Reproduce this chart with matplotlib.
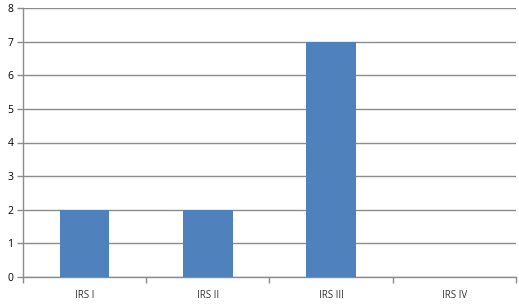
import numpy as np
import matplotlib
matplotlib.use('Agg')
import matplotlib.pyplot as plt

categories = ['IRS I', 'IRS II', 'IRS III', 'IRS IV']
values = [2, 2, 7, 0]

plt.rcParams['font.family'] = ['Open Sans', 'DejaVu Sans']

fig = plt.figure(figsize=(5.19, 3.04), dpi=100)
ax = fig.add_axes([0.0443, 0.0888, 0.9499, 0.8849])

x = np.arange(len(categories))
ax.bar(x, values, width=0.4, color='#4F81BD', zorder=3)

ax.set_xlim(-0.5, len(categories) - 0.5)
ax.set_ylim(0, 8)
ax.set_yticks(range(0, 9))
ax.yaxis.grid(True, color='#8c8c8c', linewidth=1, zorder=0)

# category ticks at boundaries, labels centered
ax.set_xticks(np.arange(-0.5, len(categories)), minor=False)
ax.set_xticklabels([])
ax.set_xticks(x, minor=True)
ax.set_xticklabels(categories, minor=True)
ax.tick_params(axis='x', which='minor', length=0, pad=9, labelsize=7, labelcolor='#333333')
ax.tick_params(axis='x', which='major', length=4, color='#8c8c8c', width=1)
ax.tick_params(axis='y', length=4, color='#8c8c8c', width=1, labelsize=7.5, pad=3)

for s in ['top', 'right']:
    ax.spines[s].set_visible(False)
for s in ['left', 'bottom']:
    ax.spines[s].set_color('#8c8c8c')
    ax.spines[s].set_linewidth(1)

fig.savefig('out.png', dpi=100)
